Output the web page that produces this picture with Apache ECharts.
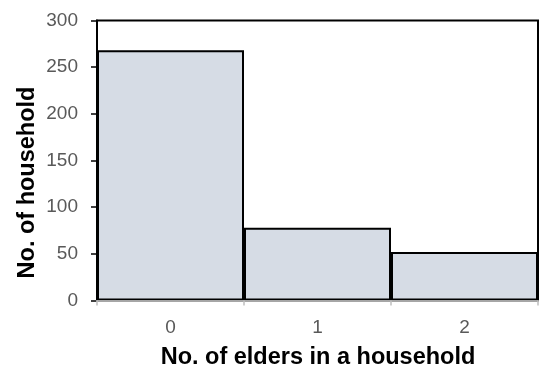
<!DOCTYPE html>
<html>
<head>
<meta charset="utf-8">
<script src="https://cdn.jsdelivr.net/npm/echarts@6/dist/echarts.min.js"></script>
<style>
  html, body { margin: 0; padding: 0; background: #fff; }
  #chart { width: 541px; height: 374px; }
</style>
</head>
<body>
<div id="chart"></div>
<script>
// Households by number of elders living in them
const categories = ['0', '1', '2'];
const households = [268, 78, 52];
const yTicks = { min: 0, max: 300, interval: 50 };
const xTitle = 'No. of elders in a household';
const yTitle = 'No. of household';

const FONT = '"Liberation Sans", Arial, sans-serif';
const chart = echarts.init(document.getElementById('chart'), null, { renderer: 'canvas' });

const grid = { left: 97, right: 3, top: 20.5, bottom: 73.5 };

chart.setOption({
  animation: false,
  backgroundColor: '#ffffff',
  grid: Object.assign({
    show: true,
    borderColor: '#000000',
    borderWidth: 2,
    backgroundColor: 'transparent'
  }, grid),
  xAxis: {
    type: 'category',
    data: categories,
    axisLine: { lineStyle: { color: '#a6a6a6', width: 2 } },
    axisTick: { show: true, length: 5, lineStyle: { color: '#bfbfbf', width: 1.5 } },
    axisLabel: { color: '#595959', fontFamily: FONT, fontSize: 19, margin: 18 },
    splitLine: { show: false },
    z: 5
  },
  yAxis: {
    type: 'value',
    min: yTicks.min,
    max: yTicks.max,
    interval: yTicks.interval,
    axisLine: { show: true, lineStyle: { color: '#000000', width: 2 } },
    axisTick: { show: true, length: 6, lineStyle: { color: '#000000', width: 1.5 } },
    axisLabel: { color: '#595959', fontFamily: FONT, fontSize: 19, margin: 19 },
    splitLine: { show: false }
  },
  series: [{
    type: 'bar',
    data: households,
    barCategoryGap: '0%',
    itemStyle: {
      color: '#d6dce5',
      borderColor: '#000000',
      borderWidth: 2
    }
  }],
  graphic: [
    {
      type: 'text',
      x: 318, y: 358,
      style: {
        text: xTitle,
        x: 0, y: 0,
        fill: '#000000',
        font: 'bold 23.5px ' + FONT,
        textAlign: 'center',
        textVerticalAlign: 'middle'
      }
    },
    {
      type: 'text',
      x: 28, y: 182.5,
      rotation: Math.PI / 2,
      style: {
        text: yTitle,
        x: 0, y: 0,
        fill: '#000000',
        font: 'bold 23.5px ' + FONT,
        textAlign: 'center',
        textVerticalAlign: 'middle'
      }
    }
  ]
});
</script>
</body>
</html>
